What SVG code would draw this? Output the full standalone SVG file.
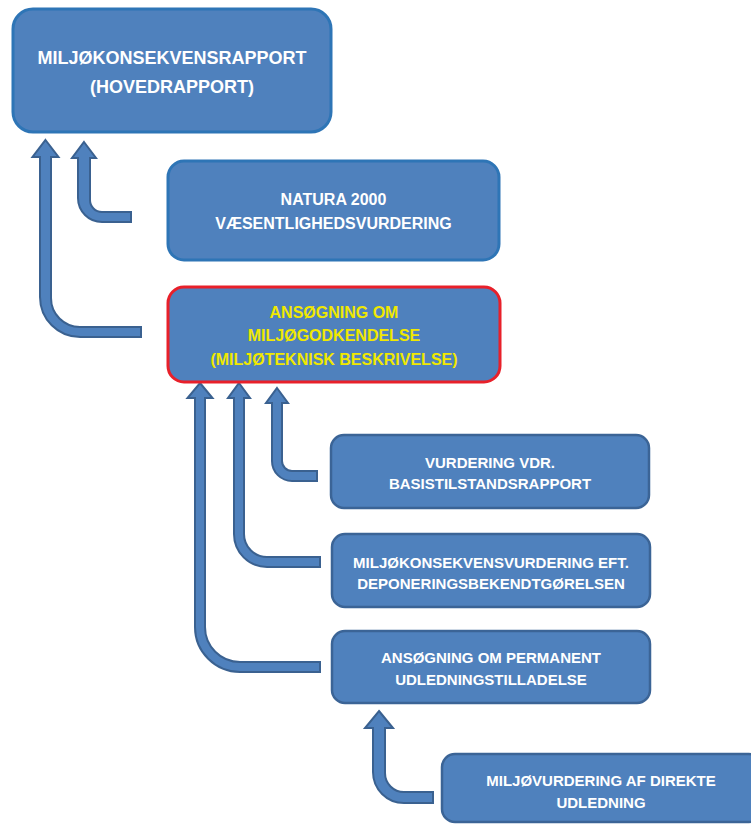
<svg xmlns="http://www.w3.org/2000/svg" width="751" height="825" viewBox="0 0 751 825">
<style>
.box{fill:#4F81BD;stroke-width:3}
.b1{stroke:#2E75B6}
.b2{stroke:#3B6496;stroke-width:2.5}
.red{stroke:#E8202A}
.arr{fill:#4F81BD;stroke:#3A6190;stroke-width:2;stroke-linejoin:miter}
text{font-family:"Liberation Sans",Arial,sans-serif;font-weight:bold;text-anchor:middle;fill:#FFFFFF}
.y{fill:#F0E800}
</style>
<rect width="751" height="825" fill="#FFFFFF"/>
<g id="connectors">
<path class="arr" d="M45.5,140 L58.5,157 L51,157 L51,298 A29,29 0 0 0 80,327 L141,327 L141,337 L80,337 A40,40 0 0 1 40,297 L40,157 L32.5,157 Z"/>
<path class="arr" d="M84,142 L96,158 L90,158 L90,200 A12,12 0 0 0 102,212 L131,212 L131,222 L102,222 A24,24 0 0 1 78,198 L78,158 L72,158 Z"/>
<path class="arr" d="M200,383 L212.5,398 L205,398 L205,627 A35,35 0 0 0 240,662 L320,662 L320,672 L240,672 A45,45 0 0 1 195,627 L195,398 L187.5,398 Z"/>
<path class="arr" d="M239,383 L250,398 L244,398 L244,534 A23,23 0 0 0 267,557 L320,557 L320,567 L267,567 A33,33 0 0 1 234,534 L234,398 L228,398 Z"/>
<path class="arr" d="M277,388 L288,403 L282,403 L282,461 A10,10 0 0 0 292,471 L317,471 L317,481 L292,481 A20,20 0 0 1 272,461 L272,403 L266,403 Z"/>
<path class="arr" d="M379,711 L393,728 L385,728 L385,773 A19,19 0 0 0 404,792 L433,792 L433,803 L404,803 A31,31 0 0 1 373,772 L373,728 L365,728 Z"/>
</g>
<g id="n1">
<rect class="box b1" x="13" y="9" width="318" height="123" rx="20"/>
<text x="172" y="64" font-size="18">MILJØKONSEKVENSRAPPORT</text>
<text x="172" y="93" font-size="18">(HOVEDRAPPORT)</text>
</g>
<g id="n2">
<rect class="box b1" x="168" y="161" width="331" height="99" rx="16"/>
<text x="333.5" y="205" font-size="16">NATURA 2000</text>
<text x="333.5" y="229" font-size="16">VÆSENTLIGHEDSVURDERING</text>
</g>
<g id="n3">
<rect class="box red" x="168" y="287" width="332" height="95" rx="16"/>
<text class="y" x="334" y="317.5" font-size="16">ANSØGNING OM</text>
<text class="y" x="334" y="341" font-size="16">MILJØGODKENDELSE</text>
<text class="y" x="334" y="364.5" font-size="16">(MILJØTEKNISK BESKRIVELSE)</text>
</g>
<g id="n4">
<rect class="box b2" x="331" y="435" width="318" height="73" rx="13"/>
<text x="490" y="467.5" font-size="15">VURDERING VDR.</text>
<text x="490" y="488.5" font-size="15">BASISTILSTANDSRAPPORT</text>
</g>
<g id="n5">
<rect class="box b2" x="332" y="534" width="318" height="73" rx="13"/>
<text x="491" y="567.5" font-size="15">MILJØKONSEKVENSVURDERING EFT.</text>
<text x="491" y="588.5" font-size="15">DEPONERINGSBEKENDTGØRELSEN</text>
</g>
<g id="n6">
<rect class="box b2" x="332" y="631" width="318" height="72" rx="13"/>
<text x="491" y="662.5" font-size="15">ANSØGNING OM PERMANENT</text>
<text x="491" y="684.5" font-size="15">UDLEDNINGSTILLADELSE</text>
</g>
<g id="n7">
<rect class="box b2" x="442" y="754" width="320" height="68" rx="13"/>
<text x="601" y="785.5" font-size="15">MILJØVURDERING AF DIREKTE</text>
<text x="601" y="807.5" font-size="15">UDLEDNING</text>
</g>
</svg>
